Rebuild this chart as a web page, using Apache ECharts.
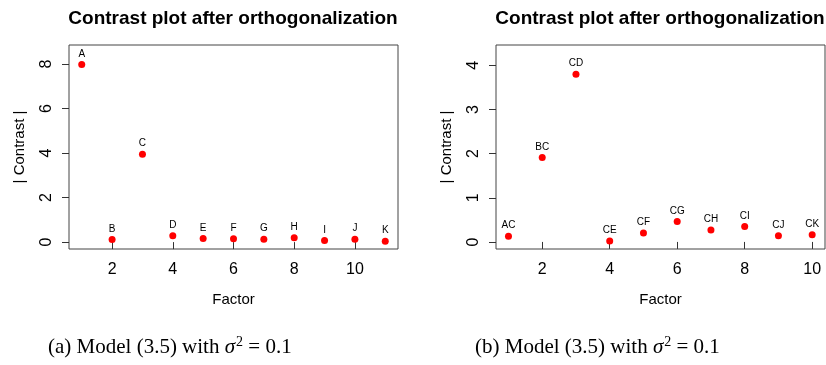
<!DOCTYPE html>
<html>
<head>
<meta charset="utf-8">
<script src="https://cdn.jsdelivr.net/npm/echarts@6/dist/echarts.min.js"></script>
<style>
  html, body { margin: 0; padding: 0; background: #fff; }
  #chart { width: 826px; height: 365px; }
</style>
</head>
<body>
<div id="chart"></div>
<script>
// Panel (a): main effects
const factorsA = ['A', 'B', 'C', 'D', 'E', 'F', 'G', 'H', 'I', 'J', 'K'];
const contrastA = [7.97, 0.12, 3.95, 0.28, 0.16, 0.15, 0.13, 0.19, 0.07, 0.13, 0.04];
const yTicksA = [0, 2, 4, 6, 8];
const xTicksA = [2, 4, 6, 8, 10];

// Panel (b): interactions with C
const factorsB = ['AC', 'BC', 'CD', 'CE', 'CF', 'CG', 'CH', 'CI', 'CJ', 'CK'];
const contrastB = [0.13, 1.91, 3.80, 0.02, 0.20, 0.46, 0.27, 0.35, 0.14, 0.16];
const yTicksB = [0, 1, 2, 3, 4];
const xTicksB = [2, 4, 6, 8, 10];

const titleText = 'Contrast plot after orthogonalization';
const captionA = '(a) Model (3.5) with ';
const captionB = '(b) Model (3.5) with ';

const sans = 'Liberation Sans, Arial, sans-serif';
const serif = 'Liberation Serif, DejaVu Serif, serif';

function points(labels, values) {
  return values.map((v, i) => ({ value: [i + 1, v], name: labels[i] }));
}

function xAxis(gridIndex, min, max, ticks) {
  return {
    type: 'value', gridIndex, min, max,
    name: 'Factor', nameLocation: 'middle', nameGap: 43,
    nameTextStyle: { fontFamily: sans, fontSize: 15, color: '#000' },
    axisLine: { show: false },
    axisTick: { show: true, length: 7, lineStyle: { color: '#333' }, customValues: ticks },
    axisLabel: { fontFamily: sans, fontSize: 16, color: '#000', margin: 13, customValues: ticks },
    splitLine: { show: false }
  };
}

function yAxis(gridIndex, min, max, ticks) {
  return {
    type: 'value', gridIndex, min, max,
    name: '| Contrast |', nameLocation: 'middle', nameGap: 42, nameRotate: 90,
    nameTextStyle: { fontFamily: sans, fontSize: 15, color: '#000' },
    axisLine: { show: false },
    axisTick: { show: true, length: 7, lineStyle: { color: '#333' }, customValues: ticks },
    axisLabel: { fontFamily: sans, fontSize: 16, color: '#000', margin: 14, rotate: 90, customValues: ticks },
    splitLine: { show: false }
  };
}

function scatter(idx, labels, values) {
  return {
    type: 'scatter', xAxisIndex: idx, yAxisIndex: idx,
    data: points(labels, values),
    symbol: 'circle', symbolSize: 7,
    itemStyle: { color: '#ff0000', opacity: 1 },
    label: {
      show: true, position: 'top', distance: 2,
      formatter: p => p.name,
      fontFamily: sans, fontSize: 10, color: '#000'
    },
    silent: true
  };
}

function caption(x, lead) {
  return {
    type: 'text', left: x, top: 335,
    style: {
      rich: {
        t: { fontFamily: serif, fontSize: 21, fill: '#000' },
        i: { fontFamily: serif, fontSize: 21, fontStyle: 'italic', fill: '#000' },
        s: { fontFamily: serif, fontSize: 14, fill: '#000', verticalAlign: 'top', padding: [0, 0, 10, 1] }
      },
      text: '{t|' + lead + '}{i|σ}{s|2}{t| = 0.1}'
    }
  };
}

const chart = echarts.init(document.getElementById('chart'), null, { renderer: 'canvas' });
chart.setOption({
  animation: false,
  backgroundColor: '#fff',
  title: [
    { text: titleText, left: 233, top: 9, padding: 0, textAlign: 'center',
      textStyle: { fontFamily: sans, fontSize: 19, fontWeight: 'bold', color: '#000' } },
    { text: titleText, left: 660, top: 9, padding: 0, textAlign: 'center',
      textStyle: { fontFamily: sans, fontSize: 19, fontWeight: 'bold', color: '#000' } }
  ],
  grid: [
    { left: 69, top: 45, width: 329, height: 204, show: true, borderColor: '#444', borderWidth: 1 },
    { left: 496, top: 45, width: 329, height: 204, show: true, borderColor: '#444', borderWidth: 1 }
  ],
  xAxis: [xAxis(0, 0.58, 11.42, xTicksA), xAxis(1, 0.63, 10.38, xTicksB)],
  yAxis: [yAxis(0, -0.31, 8.85, yTicksA), yAxis(1, -0.16, 4.46, yTicksB)],
  series: [scatter(0, factorsA, contrastA), scatter(1, factorsB, contrastB)],
  graphic: [caption(48, captionA), caption(475, captionB)]
});
</script>
</body>
</html>
